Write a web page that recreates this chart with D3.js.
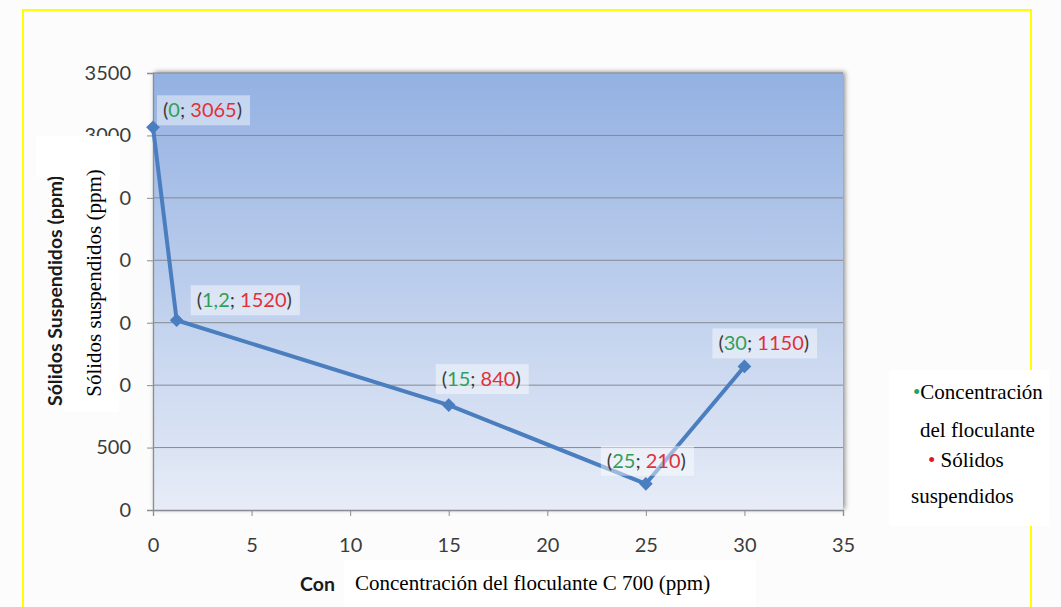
<!DOCTYPE html>
<html><head><meta charset="utf-8">
<script src="https://cdn.jsdelivr.net/npm/d3@7"></script>
<style>
html,body{margin:0;padding:0;background:#fcfcfc;}
svg{display:block;}
</style></head>
<body>
<svg id="chart" width="1061" height="607"></svg>
<script>
// ---- data ----
const concentration = [0, 1.2, 15, 25, 30];
const solids = [3065, 1520, 840, 210, 1150];
const concLabels = ["0", "1,2", "15", "25", "30"];
const solidLabels = ["3065", "1520", "840", "210", "1150"];
const xTicks = [0, 5, 10, 15, 20, 25, 30, 35];
const yTicks = [0, 500, 1000, 1500, 2000, 2500, 3000, 3500];
const yTitleOriginal = "Sólidos Suspendidos (ppm)";
const yTitleOverlay = "Sólidos suspendidos (ppm)";
const xTitleOriginalVisible = "Con";
const xTitleOverlay = "Concentración del floculante C 700 (ppm)";
const legendLines = [
  {dot: "•", dotColor: "#1fa35c", text: "Concentración"},
  {dot: "", dotColor: null, text: "del floculante"},
  {dot: "• ", dotColor: "#e8141c", text: "Sólidos"},
  {dot: "", dotColor: null, text: "suspendidos"}
];

const svg = d3.select("#chart");
const W = 1061, H = 607;
const m = {left: 153, right: 843, top: 73, bottom: 510};
const sansFont = "Lato, 'Open Sans', sans-serif";
const serifFont = "'Liberation Serif', 'DejaVu Serif', serif";

svg.append("rect").attr("width", W).attr("height", H).attr("fill", "#fcfcfc");

const defs = svg.append("defs");
const grad = defs.append("linearGradient").attr("id", "plotGrad")
  .attr("x1", 0).attr("y1", 0).attr("x2", 0).attr("y2", 1);
grad.append("stop").attr("offset", "0%").attr("stop-color", "#93b1e2");
grad.append("stop").attr("offset", "100%").attr("stop-color", "#e7ecf7");
const shadow = defs.append("filter").attr("id", "shadow")
  .attr("x", "-5%").attr("y", "-5%").attr("width", "110%").attr("height", "110%");
shadow.append("feDropShadow").attr("dx", 2).attr("dy", -1).attr("stdDeviation", 2.5)
  .attr("flood-color", "#000").attr("flood-opacity", 0.45);

// yellow frame
svg.append("rect").attr("x", 23).attr("y", 10).attr("width", 1031 - 23).attr("height", 640)
  .attr("fill", "none").attr("stroke", "#ffff00").attr("stroke-width", 2);

const x = d3.scaleLinear().domain([0, 35]).range([m.left, m.right]);
const y = d3.scaleLinear().domain([0, 3500]).range([m.bottom, m.top]);

// plot area
svg.append("rect").attr("x", m.left).attr("y", m.top)
  .attr("width", m.right - m.left).attr("height", m.bottom - m.top)
  .attr("fill", "url(#plotGrad)").attr("filter", "url(#shadow)");

// gridlines
svg.append("g").selectAll("line").data(yTicks.filter(d => d > 0)).join("line")
  .attr("x1", m.left).attr("x2", m.right)
  .attr("y1", d => y(d)).attr("y2", d => y(d))
  .attr("stroke", "#86898f").attr("stroke-width", 1);

// axes
const yAxis = svg.append("g").attr("transform", `translate(${m.left},0)`)
  .call(d3.axisLeft(y).tickValues(yTicks).tickSize(6).tickPadding(16).tickFormat(d3.format("d")));
yAxis.select(".domain").attr("stroke", "#8a8d93").attr("stroke-width", 1.3);
yAxis.selectAll(".tick line").attr("stroke", "#8a8d93");
yAxis.selectAll("text").attr("font-family", sansFont).attr("font-size", 20).attr("fill", "#3c3c3c");

const xAxis = svg.append("g").attr("transform", `translate(0,${m.bottom})`)
  .call(d3.axisBottom(x).tickValues(xTicks).tickSize(6).tickPadding(22).tickFormat(d3.format("d")));
xAxis.select(".domain").attr("stroke", "#8a8d93").attr("stroke-width", 1.3);
xAxis.selectAll(".tick line").attr("stroke", "#8a8d93");
xAxis.selectAll("text").attr("font-family", sansFont).attr("font-size", 20).attr("fill", "#3c3c3c");

// line + markers
const pts = concentration.map((c, i) => ({c, s: solids[i], cl: concLabels[i], sl: solidLabels[i]}));
svg.append("path").datum(pts)
  .attr("d", d3.line().x(d => x(d.c)).y(d => y(d.s)))
  .attr("fill", "none").attr("stroke", "#4a7ebf").attr("stroke-width", 4)
  .attr("stroke-linejoin", "round");
svg.append("g").selectAll("path").data(pts).join("path")
  .attr("transform", d => `translate(${x(d.c)},${y(d.s)})`)
  .attr("d", d3.symbol(d3.symbolDiamond2 || d3.symbolDiamond, 120))
  .attr("fill", "#4a7ebf");

// data labels (offset relative to point)
const labelOffsets = [[4, -17], [14, -20], [-13, -26], [-45, -23], [-32, -23]];
const lblG = svg.append("g");
pts.forEach((d, i) => {
  const px = x(d.c) + labelOffsets[i][0], py = y(d.s) + labelOffsets[i][1];
  const g = lblG.append("g").attr("transform", `translate(${px},${py})`);
  const t = g.append("text").attr("x", 6).attr("y", 0).attr("dy", "0.35em")
    .attr("font-family", sansFont).attr("font-size", 20).attr("fill", "#3c3c3c");
  t.append("tspan").text("(");
  t.append("tspan").attr("fill", "#2fa057").text(d.cl);
  t.append("tspan").text("; ");
  t.append("tspan").attr("fill", "#e0303a").text(d.sl);
  t.append("tspan").text(")");
  const bb = t.node().getBBox();
  g.insert("rect", "text").attr("x", 0).attr("y", -15)
    .attr("width", bb.width + 14).attr("height", 30)
    .attr("fill", "#ffffff").attr("fill-opacity", 0.45);
});

// original bold y title (partly covered by overlay)
svg.append("text")
  .attr("transform", `translate(62,406) rotate(-90)`)
  .attr("font-family", sansFont).attr("font-weight", "bold").attr("font-size", 19.5)
  .attr("fill", "#1a1a1a").text(yTitleOriginal);
// visible part of the original bold x title
svg.append("text").attr("x", 300).attr("y", 591)
  .attr("font-family", sansFont).attr("font-weight", "bold").attr("font-size", 19.5)
  .attr("fill", "#1a1a1a").text(xTitleOriginalVisible);

// white overlay boxes
svg.append("rect").attr("x", 36).attr("y", 136).attr("width", 84).attr("height", 41).attr("fill", "#ffffff");
svg.append("rect").attr("x", 64).attr("y", 136).attr("width", 55).attr("height", 276).attr("fill", "#ffffff");
svg.append("rect").attr("x", 344).attr("y", 560).attr("width", 412).attr("height", 47).attr("fill", "#ffffff");
svg.append("rect").attr("x", 889).attr("y", 370).attr("width", 160).attr("height", 156).attr("fill", "#ffffff");

// overlay texts
svg.append("text")
  .attr("transform", `translate(101,${(170 + 396) / 2}) rotate(-90)`)
  .attr("text-anchor", "middle")
  .attr("font-family", serifFont).attr("font-size", 21).attr("fill", "#000")
  .text(yTitleOverlay);
svg.append("text").attr("x", 355).attr("y", 590)
  .attr("font-family", serifFont).attr("font-size", 21).attr("fill", "#000")
  .text(xTitleOverlay);

const legX = [913, 920, 928, 911];
const legY = [399, 437, 467, 503];
legendLines.forEach((l, i) => {
  const t = svg.append("text").attr("x", legX[i]).attr("y", legY[i])
    .attr("font-family", serifFont).attr("font-size", 21).attr("fill", "#000");
  if (l.dot) t.append("tspan").attr("fill", l.dotColor).text(l.dot);
  t.append("tspan").text(l.text);
});
</script>
</body></html>
